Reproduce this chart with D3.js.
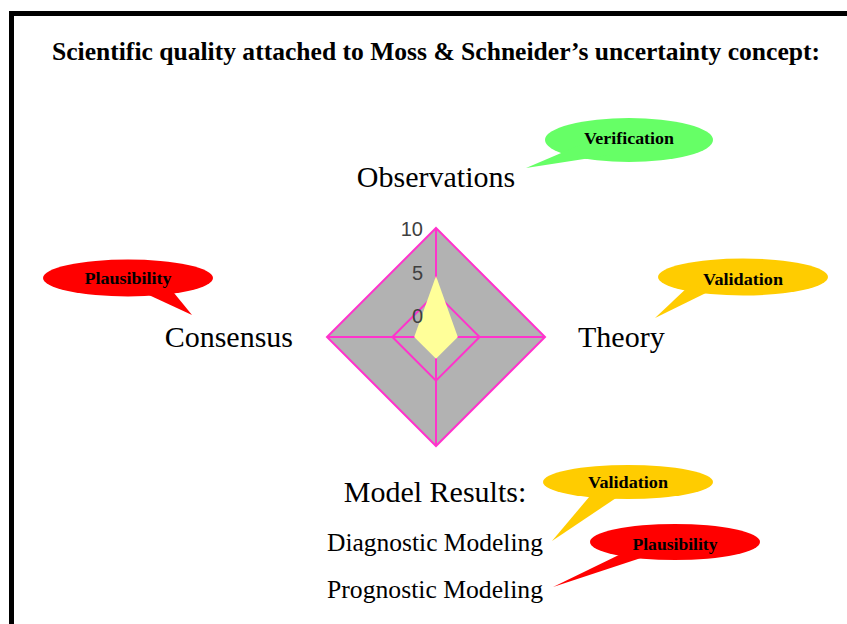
<!DOCTYPE html>
<html>
<head>
<meta charset="utf-8">
<script src="https://cdn.jsdelivr.net/npm/d3@7"></script>
<style>
  body { margin: 0; background: #fff; }
  svg { display: block; }
  .serif { font-family: "Liberation Serif", "Times New Roman", serif; fill: #000; }
</style>
</head>
<body>
<svg id="svg"></svg>
<script>
var width = 847, height = 624;

// radar data
var axes = ["Observations", "Theory", "Model Results:", "Consensus"];
var values = [4.5, 0, 0, 0];
var ticks = [0, 5, 10];
var rings = [2.5, 10];

// callout texts / colours
var calloutLabels = ["Verification", "Plausibility", "Validation", "Validation", "Plausibility"];
var calloutColors = ["#66ff66", "#ff0000", "#ffcc00", "#ffcc00", "#ff0000"];
var subLabels = ["Diagnostic Modeling", "Prognostic Modeling"];

var svg = d3.select("#svg").attr("width", width).attr("height", height);

// frame (only top and left show)
svg.append("rect").attr("x", 9).attr("y", 11).attr("width", width).attr("height", 5).attr("fill", "#000");
svg.append("rect").attr("x", 9).attr("y", 11).attr("width", 5).attr("height", height).attr("fill", "#000");

svg.append("text").attr("class", "serif")
    .attr("x", 52).attr("y", 60)
    .attr("textLength", 768).attr("lengthAdjust", "spacingAndGlyphs")
    .style("font-size", "25px").style("font-weight", "bold")
    .text("Scientific quality attached to Moss & Schneider\u2019s uncertainty concept:");

var cx = 436, cy = 337;
var r = d3.scaleLinear().domain([-2.5, 10]).range([0, 109]);
var angle = d3.scalePoint().domain(d3.range(axes.length + 1)).range([0, 2 * Math.PI]);

function pt(i, v) {
  var a = angle(i) - Math.PI / 2;
  return [cx + r(v) * Math.cos(a), cy + r(v) * Math.sin(a)];
}

var line = d3.line().curve(d3.curveLinearClosed);
var g = svg.append("g");

// grey plot area
g.append("path")
    .attr("d", line(axes.map(function(d, i) { return pt(i, 10); })))
    .attr("fill", "#b2b2b2");

// spokes
axes.forEach(function(d, i) {
  var p = pt(i, 10);
  g.append("line").attr("x1", cx).attr("y1", cy).attr("x2", p[0]).attr("y2", p[1])
      .attr("stroke", "#ff33cc").attr("stroke-width", 2);
});

// grid rings
g.selectAll(".ring").data(rings).enter().append("path")
    .attr("class", "ring")
    .attr("d", function(v) { return line(axes.map(function(d, i) { return pt(i, v); })); })
    .attr("fill", "none").attr("stroke", "#ff33cc").attr("stroke-width", 2);

// series
g.append("path")
    .attr("d", line(values.map(function(v, i) { return pt(i, v); })))
    .attr("fill", "#ffff99");

// tick labels
g.selectAll(".tick").data(ticks).enter().append("text")
    .attr("x", cx - 13)
    .attr("y", function(v) { return cy - r(v) + 8; })
    .attr("text-anchor", "end")
    .style("font-family", "Liberation Sans, Arial, sans-serif")
    .style("font-size", "20px")
    .attr("fill", "#404040")
    .text(function(v) { return v; });

// axis labels
var labelPos = [
  {x: cx, y: 187, anchor: "middle"},
  {x: 578, y: 347, anchor: "start"},
  {x: cx - 1, y: 502, anchor: "middle"},
  {x: 293, y: 347, anchor: "end"}
];
axes.forEach(function(d, i) {
  svg.append("text").attr("class", "serif")
      .attr("x", labelPos[i].x).attr("y", labelPos[i].y)
      .attr("text-anchor", labelPos[i].anchor)
      .style("font-size", "30px")
      .text(d);
});

subLabels.forEach(function(d, i) {
  svg.append("text").attr("class", "serif")
      .attr("x", 327).attr("y", 551 + i * 47)
      .attr("textLength", 216).attr("lengthAdjust", "spacingAndGlyphs")
      .style("font-size", "25px")
      .text(d);
});

// callout bubbles: ellipse + tail
var callouts = [
  {cx: 629, cy: 140, rx: 84, ry: 22, tip: [526, 168], base: [[580, 145], [610, 155]], tw: 90, ty: 144},
  {cx: 128, cy: 278, rx: 85, ry: 18.5, tip: [192, 315], base: [[138, 290], [170, 288]], tw: 87, ty: 284},
  {cx: 743, cy: 277, rx: 85, ry: 18.5, tip: [655, 318], base: [[690, 285], [712, 290]], tw: 80, ty: 285},
  {cx: 628, cy: 482, rx: 85, ry: 17, tip: [552, 541], base: [[595, 490], [625, 492]], tw: 80, ty: 488},
  {cx: 675, cy: 542, rx: 85, ry: 18, tip: [553, 587], base: [[625, 552], [650, 555]], tw: 85, ty: 550}
];

callouts.forEach(function(c, i) {
  var b = svg.append("g");
  b.append("ellipse").attr("cx", c.cx).attr("cy", c.cy).attr("rx", c.rx).attr("ry", c.ry)
      .attr("fill", calloutColors[i]);
  b.append("path").attr("d", d3.line()([c.base[0], c.tip, c.base[1]]) + "Z")
      .attr("fill", calloutColors[i]);
  b.append("text").attr("class", "serif")
      .attr("x", c.cx - c.tw / 2).attr("y", c.ty)
      .attr("textLength", c.tw).attr("lengthAdjust", "spacingAndGlyphs")
      .style("font-size", "16px").style("font-weight", "bold")
      .text(calloutLabels[i]);
});
</script>
</body>
</html>
